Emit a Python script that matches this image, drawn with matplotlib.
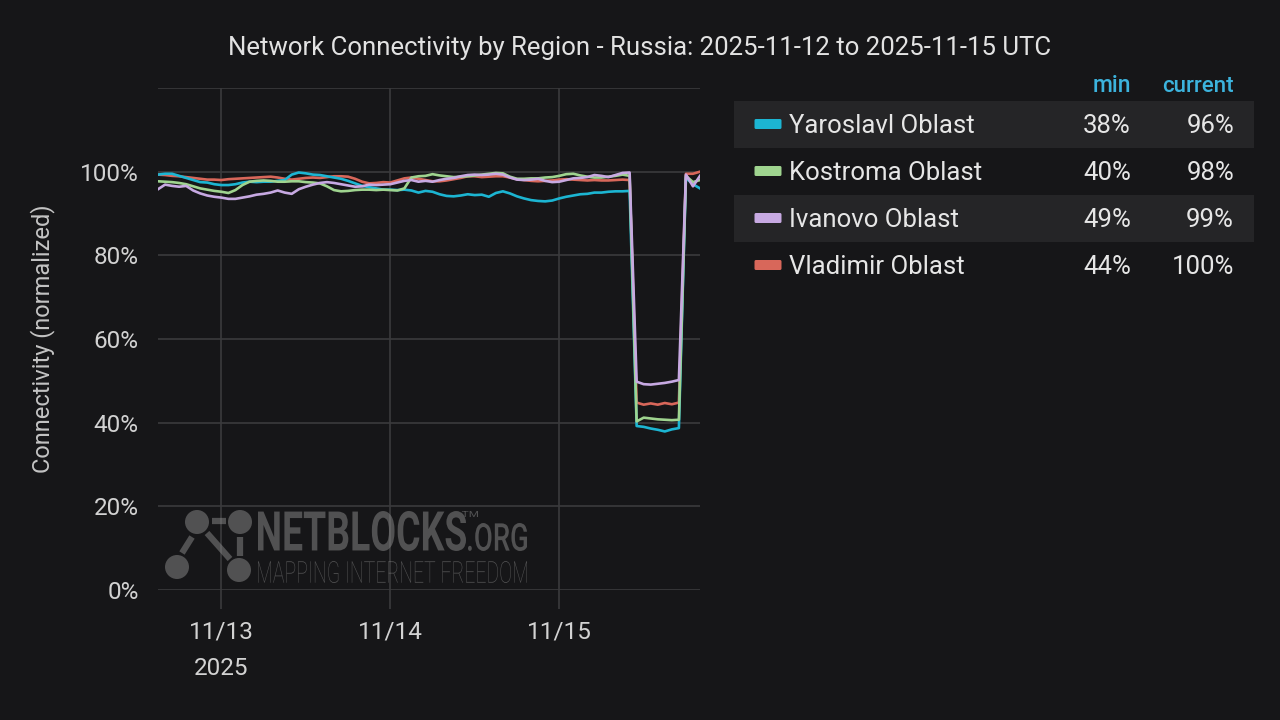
import numpy as np
import pandas as pd
import matplotlib
matplotlib.use("Agg")
import matplotlib.pyplot as plt
import matplotlib.dates as mdates
from matplotlib.textpath import TextPath
from matplotlib.font_manager import FontProperties
from matplotlib.patches import PathPatch, Circle, FancyBboxPatch
from matplotlib.transforms import Affine2D

# hourly samples, 2025-11-12 15:00 .. 2025-11-15 20:00 UTC
times = pd.date_range("2025-11-12 15:00", periods=78, freq="h")

yaroslavl = [99.3, 99.5, 99.5, 99.0, 98.5, 98.0, 97.5, 97.4, 97.0, 96.8,
             96.8, 97.0, 97.4, 97.6, 97.5, 97.6, 97.6, 97.8, 98.0, 99.3,
             99.8, 99.6, 99.3, 99.2, 98.9, 98.6, 98.3, 97.8, 97.2, 96.6,
             96.3, 96.0, 95.7, 95.7, 95.6, 95.7, 95.5, 95.0, 95.4, 95.2,
             94.6, 94.2, 94.1, 94.3, 94.6, 94.4, 94.5, 94.0, 94.9, 95.3,
             94.8, 94.1, 93.6, 93.2, 93.0, 92.9, 93.1, 93.6, 94.0, 94.3,
             94.6, 94.7, 95.0, 95.0, 95.2, 95.3, 95.3, 95.4, 39.2, 39.0,
             38.6, 38.3, 37.9, 38.4, 38.7, 98.5, 97.0, 96.0]
kostroma = [97.7, 97.6, 97.5, 97.3, 97.0, 96.5, 96.0, 95.7, 95.4, 95.2,
            94.9, 95.6, 96.8, 97.6, 97.8, 97.9, 97.8, 97.6, 97.6, 97.7,
            97.7, 97.5, 97.4, 97.2, 96.5, 95.6, 95.3, 95.4, 95.6, 95.7,
            95.7, 95.6, 95.7, 95.6, 95.5, 96.0, 98.6, 98.9, 99.0, 99.4,
            99.1, 98.9, 98.7, 98.8, 98.9, 99.1, 99.3, 99.5, 99.7, 99.6,
            98.8, 98.3, 98.3, 98.4, 98.4, 98.6, 98.7, 99.0, 99.4, 99.5,
            99.1, 98.8, 98.6, 98.6, 98.8, 99.0, 99.3, 99.0, 40.3, 41.2,
            41.0, 40.8, 40.7, 40.6, 40.7, 99.0, 97.5, 98.0]
ivanovo = [95.8, 96.9, 96.6, 96.4, 96.6, 95.5, 94.8, 94.3, 94.0, 93.8,
           93.5, 93.5, 93.8, 94.1, 94.5, 94.7, 95.0, 95.5, 95.0, 94.7,
           95.8, 96.4, 96.9, 97.3, 97.5, 97.3, 97.0, 96.7, 96.4, 96.5,
           96.9, 96.8, 96.9, 97.0, 97.4, 97.8, 98.0, 97.6, 97.8, 97.6,
           98.0, 98.3, 98.5, 98.9, 99.2, 99.3, 99.2, 99.3, 99.5, 99.3,
           98.6, 98.1, 98.0, 98.1, 98.3, 97.8, 97.5, 97.6, 98.0, 98.4,
           98.5, 98.7, 99.2, 99.0, 98.7, 99.2, 99.7, 99.8, 49.8, 49.2,
           49.1, 49.3, 49.5, 49.8, 50.2, 99.3, 96.5, 99.0]
vladimir = [99.3, 99.2, 99.0, 98.9, 98.7, 98.5, 98.3, 98.1, 98.1, 98.0,
            98.2, 98.3, 98.4, 98.5, 98.6, 98.7, 98.8, 98.6, 98.3, 98.1,
            98.3, 98.5, 98.6, 98.5, 98.7, 98.9, 98.9, 98.8, 98.3, 97.6,
            97.2, 97.3, 97.5, 97.4, 97.9, 98.4, 98.6, 98.3, 98.0, 97.7,
            97.7, 97.9, 98.2, 98.5, 98.9, 98.9, 98.7, 98.8, 98.9, 98.9,
            98.6, 98.2, 98.0, 97.8, 97.7, 97.8, 97.9, 98.1, 98.2, 98.1,
            98.0, 97.9, 98.0, 97.9, 97.9, 98.0, 98.1, 98.0, 44.8, 44.3,
            44.6, 44.3, 44.7, 44.4, 44.8, 99.5, 99.5, 100.0]

regions = ["Yaroslavl Oblast", "Kostroma Oblast", "Ivanovo Oblast", "Vladimir Oblast"]
mins = [38, 40, 49, 44]
currents = [96, 98, 99, 100]
colors = ["#1cb5d2", "#9fd48f", "#c7a9e2", "#d8675a"]

bg = "#161618"
grid_c = "#3b3b3d"
text_c = "#d2d2d2"

plt.rcParams["font.family"] = ["Roboto", "DejaVu Sans"]

fig = plt.figure(figsize=(12.8, 7.2), dpi=100, facecolor=bg)
ax = fig.add_axes([158 / 1280, 1 - 590 / 720, 542 / 1280, 502 / 720])
ax.set_facecolor(bg)

series = {"Yaroslavl Oblast": yaroslavl, "Kostroma Oblast": kostroma,
          "Ivanovo Oblast": ivanovo, "Vladimir Oblast": vladimir}
for name in ["Vladimir Oblast", "Yaroslavl Oblast", "Kostroma Oblast", "Ivanovo Oblast"]:
    c = colors[regions.index(name)]
    ax.plot(times, series[name], color=c, lw=1.9, solid_joinstyle="round")

ax.set_ylim(0, 120)
ax.set_xlim(times[0], times[-1])
ax.set_yticks([0, 20, 40, 60, 80, 100, 120])
ax.set_yticklabels(["0%", "20%", "40%", "60%", "80%", "100%", ""])
ax.xaxis.set_major_locator(mdates.DayLocator())

def fmt_day(x, pos):
    d = mdates.num2date(x)
    s = d.strftime("%m/%d")
    if pos == 0:
        s += "\n2025"
    return s

ax.xaxis.set_major_formatter(plt.FuncFormatter(fmt_day))
ax.grid(True, color=grid_c, lw=1.2)
for s in ax.spines.values():
    s.set_visible(False)
ax.tick_params(axis="y", length=0, pad=14, labelsize=17.5, labelcolor=text_c)
ax.tick_params(axis="x", length=14, width=1.2, color=grid_c, pad=8,
               labelsize=17.5, labelcolor=text_c)
for lab in ax.get_xticklabels():
    lab.set_linespacing(1.75)
ax.set_ylabel("Connectivity (normalized)", color="#c4c4c4", fontsize=17)
ax.yaxis.set_label_coords(-0.19, 0.5)

fig.text(0.5, 1 - 48 / 720, "Network Connectivity by Region - Russia: 2025-11-12 to 2025-11-15 UTC",
         ha="center", va="center", color="#e2e2e2", fontsize=18.5)

# overlay in pixel coordinates for legend table and watermark
ov = fig.add_axes([0, 0, 1, 1])
ov.set_xlim(0, 1280)
ov.set_ylim(720, 0)
ov.axis("off")
ov.patch.set_alpha(0)

hdr_c = "#3cb3dd"
ov.text(1131, 86, "min", ha="right", va="center", color=hdr_c, fontsize=16.5, fontweight="medium")
ov.text(1234, 86, "current", ha="right", va="center", color=hdr_c, fontsize=16, fontweight="medium")
row_h = 47
for i, name in enumerate(regions):
    yc = 124 + i * row_h
    if i % 2 == 0:
        ov.add_patch(plt.Rectangle((734, yc - row_h / 2), 520, row_h, color="#252527", lw=0))
    ov.add_patch(FancyBboxPatch((756, yc - 3.5), 24, 7, boxstyle="round,pad=1.5",
                                color=colors[i], lw=0))
    ov.text(789, yc + 2, name, ha="left", va="center", color="#e6e6e6", fontsize=18.5)
    ov.text(1131, yc + 2, f"{mins[i]}%", ha="right", va="center", color="#e6e6e6", fontsize=18.5)
    ov.text(1234, yc + 2, f"{currents[i]}%", ha="right", va="center", color="#e6e6e6", fontsize=18.5)

# NetBlocks watermark
wm_c = "#8c8c8c"
wm_a = 0.5

def fit_text(s, x0, x1, ytop, ybot, weight):
    tp = TextPath((0, 0), s, size=50, prop=FontProperties(family="Roboto", weight=weight))
    ext = tp.get_extents()
    sx = (x1 - x0) / ext.width
    sy = (ybot - ytop) / ext.height
    tr = Affine2D().translate(-ext.x0, -ext.y0).scale(sx, -sy).translate(x0, ybot)
    ov.add_patch(PathPatch(tr.transform_path(tp), color=wm_c, alpha=wm_a, lw=0))

fit_text("NETBLOCKS", 258, 466, 511, 551, "bold")
fit_text(".ORG", 468, 527, 523, 551, "medium")
fit_text("TM", 462, 478, 511, 517, "normal")
fit_text("MAPPING INTERNET FREEDOM", 258, 527, 561, 583, "light")

for cx, cy in [(197, 522), (240, 522), (177, 567), (239, 570)]:
    ov.add_patch(Circle((cx, cy), 12, color=wm_c, alpha=wm_a, lw=0))
for (xa, ya), (xb, yb) in [((212, 521), (226, 521)), ((192, 537), (182, 553)),
                           ((207, 533), (230, 559)), ((240, 537), (240, 556))]:
    ov.plot([xa, xb], [ya, yb], color=wm_c, alpha=wm_a, lw=4.5, solid_capstyle="butt")

fig.savefig("out.png", dpi=100, facecolor=bg)
